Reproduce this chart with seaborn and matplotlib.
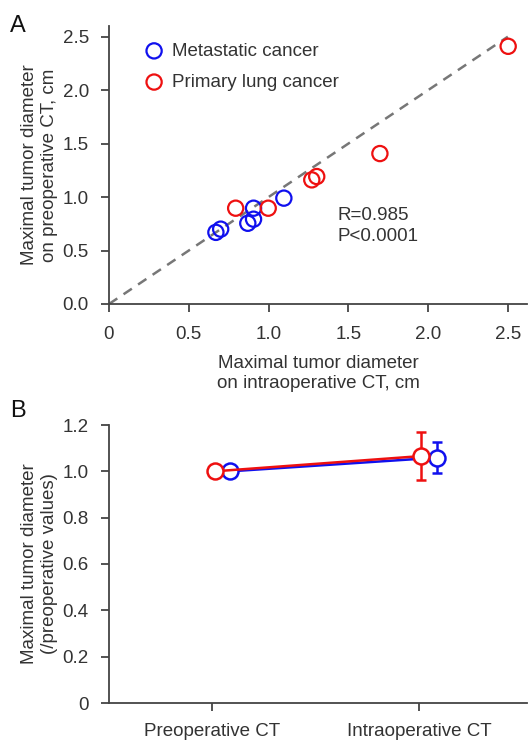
import numpy as np
import pandas as pd
import matplotlib
matplotlib.use("Agg")
import matplotlib.pyplot as plt
import seaborn as sns
from matplotlib.ticker import FixedLocator, FixedFormatter

# ---------------- data ----------------
groups = ["Metastatic cancer", "Primary lung cancer"]
colors = ["#1010ee", "#ee1010"]

meta_intra = [0.67, 0.70, 0.87, 0.906, 0.906, 1.096]
meta_pre = [0.67, 0.70, 0.755, 0.793, 0.896, 0.99]
prim_intra = [0.794, 0.998, 1.271, 1.302, 1.698, 2.502]
prim_pre = [0.896, 0.896, 1.161, 1.192, 1.407, 2.41]

stats_text = "R=0.985\nP<0.0001"

b_categories = ["Preoperative CT", "Intraoperative CT"]
meta_ratio = [1.0, 1.059]
meta_err = [0.0, 0.066]
prim_ratio = [1.0, 1.066]
prim_err = [0.0, 0.105]
dodge = [0.085, 0.01]  # blue, red offset

a_xticks = [0, 0.5, 1.0, 1.5, 2.0, 2.5]
a_xticklabels = ["0", "0.5", "1.0", "1.5", "2.0", "2.5"]
a_yticks = [0, 0.5, 1.0, 1.5, 2.0, 2.5]
a_yticklabels = ["0.0", "0.5", "1.0", "1.5", "2.0", "2.5"]
b_yticks = [0, 0.2, 0.4, 0.6, 0.8, 1.0, 1.2]
b_yticklabels = ["0", "0.2", "0.4", "0.6", "0.8", "1.0", "1.2"]

# ---------------- style ----------------
sns.set_style("ticks")
plt.rcParams["font.family"] = ["Liberation Sans", "DejaVu Sans"]
txt = "#333333"
axc = "#444444"
plt.rcParams.update({
    "text.color": txt, "axes.labelcolor": txt,
    "xtick.color": axc, "ytick.color": axc,
    "xtick.labelcolor": txt, "ytick.labelcolor": txt,
    "axes.edgecolor": axc, "axes.linewidth": 1.3,
    "xtick.major.width": 1.3, "ytick.major.width": 1.3,
    "xtick.major.size": 5.5, "ytick.major.size": 5.5,
    "xtick.direction": "out", "ytick.direction": "out",
})
FS = 13.5

fig = plt.figure(figsize=(5.28, 7.42), dpi=100)
W, H = 528, 742
def rect(l, t, r, b):
    return [l / W, 1 - b / H, (r - l) / W, (b - t) / H]

# ---------------- panel A ----------------
axA = fig.add_axes(rect(109, 26, 527, 304))
df_meta = pd.DataFrame({"intra": meta_intra, "pre": meta_pre})
df_prim = pd.DataFrame({"intra": prim_intra, "pre": prim_pre})

axA.plot([0, 2.5], [0, 2.5], ls=(0, (4, 3)), color="#777777", lw=1.8, zorder=1)
for df, col, lab in [(df_meta, colors[0], groups[0]), (df_prim, colors[1], groups[1])]:
    sns.scatterplot(data=df, x="intra", y="pre", ax=axA, s=120,
                    facecolor="none", edgecolor=col, linewidth=1.6,
                    label=lab, zorder=3)
axA.set_xlim(0, 2.62)
axA.set_ylim(0, 2.6)
axA.xaxis.set_major_locator(FixedLocator(a_xticks))
axA.xaxis.set_major_formatter(FixedFormatter(a_xticklabels))
axA.yaxis.set_major_locator(FixedLocator(a_yticks))
axA.yaxis.set_major_formatter(FixedFormatter(a_yticklabels))
axA.tick_params(labelsize=FS)
axA.tick_params(axis="x", pad=10)
axA.tick_params(axis="y", pad=9)
axA.set_xlabel("Maximal tumor diameter\non intraoperative CT, cm", fontsize=FS,
               labelpad=9, linespacing=1.25)
axA.set_ylabel("Maximal tumor diameter\non preoperative CT, cm", fontsize=FS,
               labelpad=3, linespacing=1.25)
sns.despine(ax=axA)
axA.text(1.43, 0.905, stats_text, fontsize=FS, va="top", ha="left", linespacing=1.3)
leg = axA.legend(loc="upper left", bbox_to_anchor=(0.063, 0.967), frameon=False,
                 fontsize=FS, handletextpad=0.35, labelspacing=0.75,
                 borderaxespad=0.0, handlelength=1.2)

fig.text(10 / W, 1 - 32 / H, "A", fontsize=17, color="#111111")

# ---------------- panel B ----------------
axB = fig.add_axes(rect(109, 425, 527, 703))
xpos = np.arange(len(b_categories))
for ratio, err, col, off, z in [(meta_ratio, meta_err, colors[0], dodge[0], 3),
                                (prim_ratio, prim_err, colors[1], dodge[1], 4)]:
    xs = xpos + off
    axB.errorbar(xs[1:], ratio[1:], yerr=err[1:], fmt="none", ecolor=col,
                 elinewidth=1.8, capsize=3.5, capthick=1.8, zorder=z)
    sns.lineplot(x=xs, y=ratio, ax=axB, color=col, lw=1.8, marker="o",
                 markersize=11.5, markerfacecolor="white", markeredgecolor=col,
                 markeredgewidth=1.8, zorder=z + 0.5)
axB.set_xlim(-0.5, 1.52)
axB.set_ylim(0, 1.2)
axB.set_xticks(xpos)
axB.set_xticklabels(b_categories)
axB.yaxis.set_major_locator(FixedLocator(b_yticks))
axB.yaxis.set_major_formatter(FixedFormatter(b_yticklabels))
axB.tick_params(labelsize=FS)
axB.tick_params(axis="x", pad=9)
axB.tick_params(axis="y", pad=9)
axB.set_ylabel("Maximal tumor diameter\n(/preoperative values)", fontsize=FS,
               labelpad=3, linespacing=1.25)
sns.despine(ax=axB)

fig.text(10 / W, 1 - 417 / H, "B", fontsize=17, color="#111111")

fig.savefig("out.png", dpi=100)
